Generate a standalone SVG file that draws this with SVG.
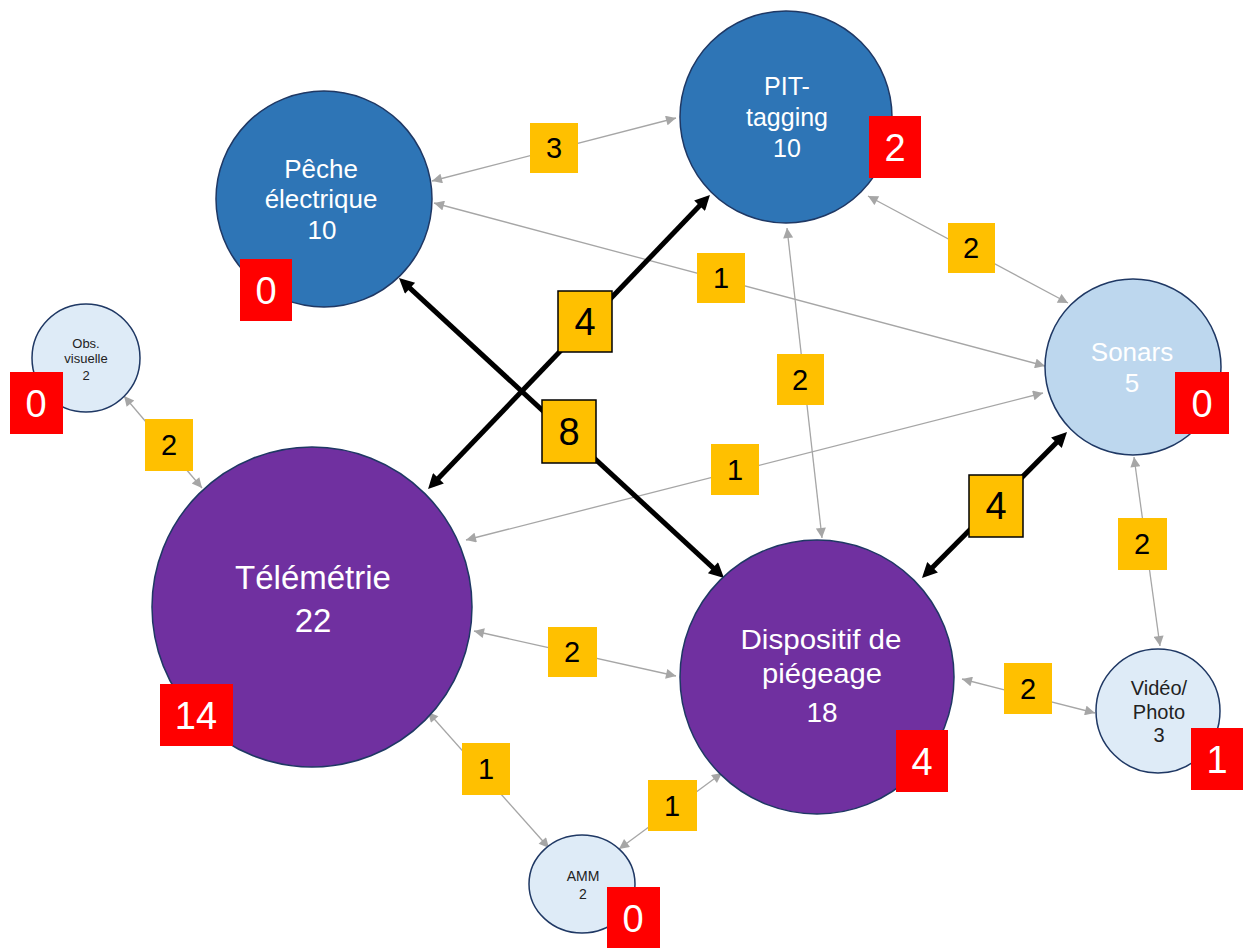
<svg xmlns="http://www.w3.org/2000/svg" width="1244" height="948" viewBox="0 0 1244 948">
<defs>
<marker id="ag" viewBox="0 0 10 10" refX="10" refY="5" markerUnits="userSpaceOnUse" markerWidth="12" markerHeight="10" orient="auto-start-reverse"><path d="M0,0 L10,5 L0,10 z" fill="#A6A6A6"/></marker>
<marker id="ab" viewBox="0 0 10 10" refX="6" refY="5" markerUnits="userSpaceOnUse" markerWidth="18" markerHeight="15" orient="auto-start-reverse"><path d="M0,0 L10,5 L0,10 z" fill="#000"/></marker>
</defs>
<style>
text{font-family:"Liberation Sans",Arial,sans-serif;text-anchor:middle}
.n{stroke:#1F3864;stroke-width:1.5}
.g{stroke:#A6A6A6;stroke-width:1.3;fill:none;marker-start:url(#ag);marker-end:url(#ag)}
.b{stroke:#000;stroke-width:5;fill:none;marker-start:url(#ab);marker-end:url(#ab)}
.y{fill:#FFC000}
.yb{fill:#FFC000;stroke:#000;stroke-width:1.5}
.r{fill:#FF0000}
.lt{font-size:29px;fill:#000}
.lb{font-size:38px;fill:#000}
.rt{font-size:38px;fill:#fff}
.w{fill:#fff}
.d{fill:#222}
</style>
<rect width="1244" height="948" fill="#fff"/>
<g id="connectors">
<line class="g" x1="432" y1="181" x2="676" y2="118"/>
<line class="g" x1="434" y1="203" x2="1045" y2="366"/>
<line class="g" x1="1043" y1="393" x2="466" y2="540"/>
<line class="g" x1="868" y1="196" x2="1068" y2="303"/>
<line class="g" x1="787" y1="228" x2="822" y2="538"/>
<line class="g" x1="124" y1="396" x2="202" y2="488"/>
<line class="g" x1="1134" y1="457" x2="1160" y2="646"/>
<line class="g" x1="474" y1="631" x2="676" y2="676"/>
<line class="g" x1="962" y1="679" x2="1095" y2="713"/>
<line class="g" x1="428" y1="712" x2="549" y2="848"/>
<line class="g" x1="619" y1="849" x2="722" y2="773"/>
<line class="b" x1="403.4" y1="282.1" x2="719.6" y2="573.9"/>
<line class="b" x1="432.2" y1="484.7" x2="705.8" y2="199.3"/>
<line class="b" x1="1062.8" y1="436.3" x2="926.2" y2="573.7"/>
<rect class="y" x="530" y="123" width="48" height="50"/><text class="lt" x="554" y="158">3</text>
<rect class="y" x="697" y="253" width="48" height="50"/><text class="lt" x="721" y="288">1</text>
<rect class="y" x="948" y="223" width="47" height="50"/><text class="lt" x="971" y="258">2</text>
<rect class="y" x="777" y="354" width="47" height="51"/><text class="lt" x="800" y="390">2</text>
<rect class="y" x="145" y="419" width="48" height="52"/><text class="lt" x="169" y="455">2</text>
<rect class="y" x="711" y="444" width="48" height="51"/><text class="lt" x="735" y="480">1</text>
<rect class="y" x="1118" y="518" width="49" height="52"/><text class="lt" x="1142" y="554">2</text>
<rect class="y" x="548" y="627" width="49" height="50"/><text class="lt" x="572" y="662">2</text>
<rect class="y" x="1004" y="663" width="48" height="51"/><text class="lt" x="1028" y="699">2</text>
<rect class="y" x="462" y="743" width="48" height="52"/><text class="lt" x="486" y="779">1</text>
<rect class="y" x="648" y="780" width="49" height="51"/><text class="lt" x="672" y="816">1</text>
<rect class="yb" x="558" y="291" width="54" height="61"/><text class="lb" x="585" y="335">4</text>
<rect class="yb" x="542" y="400" width="54" height="63"/><text class="lb" x="569" y="445">8</text>
<rect class="yb" x="969" y="475" width="54" height="62"/><text class="lb" x="996" y="519">4</text>
</g>
<g id="peche">
<circle class="n" cx="324" cy="199" r="108" fill="#2E75B6"/>
<text class="w" font-size="26" x="321" y="178">Pêche</text>
<text class="w" font-size="26" x="321" y="208">électrique</text>
<text class="w" font-size="26" x="322" y="239">10</text>
<rect class="r" x="240" y="259" width="52" height="62"/><text class="rt" x="266" y="304">0</text>
</g>
<g id="pit">
<circle class="n" cx="786" cy="117" r="106" fill="#2E75B6"/>
<text class="w" font-size="25" x="787" y="95">PIT-</text>
<text class="w" font-size="25" x="787" y="126">tagging</text>
<text class="w" font-size="25" x="787" y="157">10</text>
<rect class="r" x="869" y="116" width="52" height="62"/><text class="rt" x="895" y="161">2</text>
</g>
<g id="sonars">
<circle class="n" cx="1133" cy="367" r="88" fill="#BDD7EE"/>
<text class="w" font-size="26" x="1132" y="361">Sonars</text>
<text class="w" font-size="26" x="1132" y="392">5</text>
<rect class="r" x="1175" y="372" width="54" height="62"/><text class="rt" x="1202" y="417">0</text>
</g>
<g id="obs">
<circle class="n" cx="86" cy="358" r="54" fill="#DEEBF7"/>
<text class="d" font-size="13" x="86" y="348">Obs.</text>
<text class="d" font-size="13" x="86" y="363">visuelle</text>
<text class="d" font-size="13" x="86" y="380">2</text>
<rect class="r" x="10" y="372" width="53" height="62"/><text class="rt" x="36" y="417">0</text>
</g>
<g id="telemetrie">
<circle class="n" cx="312" cy="607" r="160" fill="#7030A0"/>
<text class="w" font-size="33" x="313" y="589">Télémétrie</text>
<text class="w" font-size="33" x="313" y="632">22</text>
<rect class="r" x="160" y="684" width="73" height="62"/><text class="rt" x="196" y="729">14</text>
</g>
<g id="dispositif">
<circle class="n" cx="817" cy="677" r="137" fill="#7030A0"/>
<text class="w" font-size="28" x="821" y="649" textLength="161" lengthAdjust="spacingAndGlyphs">Dispositif de</text>
<text class="w" font-size="28" x="822" y="683" textLength="120" lengthAdjust="spacingAndGlyphs">piégeage</text>
<text class="w" font-size="28" x="822" y="722">18</text>
<rect class="r" x="896" y="730" width="52" height="62"/><text class="rt" x="922" y="775">4</text>
</g>
<g id="amm">
<ellipse class="n" cx="582" cy="884" rx="53" ry="49" fill="#DEEBF7"/>
<text class="d" font-size="14" x="583" y="881">AMM</text>
<text class="d" font-size="14" x="583" y="899">2</text>
<rect class="r" x="607" y="887" width="53" height="62"/><text class="rt" x="633" y="932">0</text>
</g>
<g id="video">
<circle class="n" cx="1158" cy="711" r="62" fill="#DEEBF7"/>
<text class="d" font-size="20" x="1159" y="695">Vidéo/</text>
<text class="d" font-size="20" x="1159" y="719">Photo</text>
<text class="d" font-size="20" x="1159" y="742">3</text>
<rect class="r" x="1191" y="728" width="52" height="62"/><text class="rt" x="1217" y="773">1</text>
</g>
</svg>
